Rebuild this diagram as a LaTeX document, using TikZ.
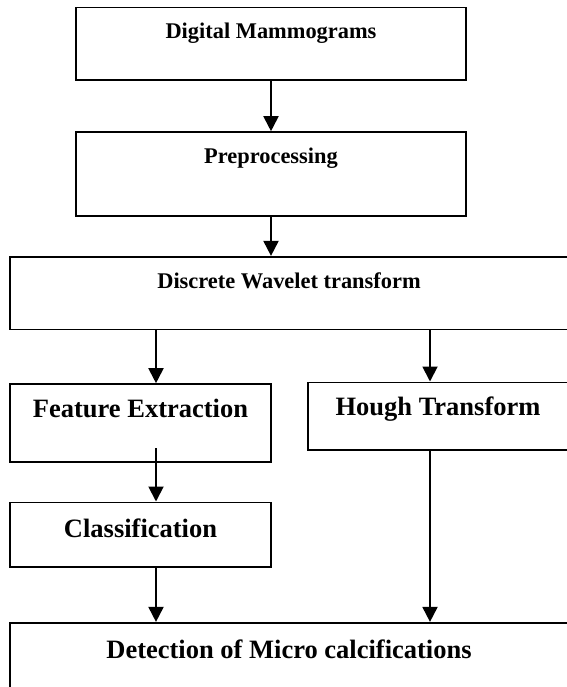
\documentclass[tikz,border=0pt]{standalone}
\usepackage{fontspec}
\setmainfont{Liberation Serif}
\usepackage{tikz}
\usetikzlibrary{arrows.meta}

\begin{document}
\begin{tikzpicture}[x=1pt,y=-1pt,
    box/.style={draw=black, line width=1.6pt, inner sep=0pt, anchor=base, font=\bfseries},
    small/.style={font=\bfseries\fontsize{22.4}{26}\selectfont},
    big/.style={font=\bfseries\fontsize{26.5}{30}\selectfont},
    arr/.style={line width=1.9pt, -{Triangle[length=15pt,width=15pt]}}]
            \useasboundingbox (0,0) rectangle (566,687);

            \node[box, small, minimum width=390pt, text height=31.5pt, text depth=41pt] (dm) at (271,39) {Digital Mammograms};
            \node[box, small, minimum width=390pt, text height=32pt, text depth=52pt] (pre) at (271,164) {Preprocessing};
            \node[box, small, minimum width=558pt, text height=31.6pt, text depth=41pt] (dwt) at (289,288.3) {Discrete Wavelet transform};

            \node[box, big, minimum width=261pt, text height=33.3pt, text depth=44.4pt] (fe) at (140.5,417.3) {Feature Extraction};
            \node[box, big, minimum width=260pt, text height=32.7pt, text depth=35pt] (ht) at (438,415) {Hough Transform};
            \node[box, big, minimum width=261pt, text height=35pt, text depth=29.4pt] (cls) at (140.5,537.3) {Classification};
            \node[box, big, minimum width=558pt, text height=35.6pt, text depth=52pt] (det) at (289,658.3) {Detection of Micro calcifications};

            \coordinate (lcol) at (156,0);
            \coordinate (rcol) at (430,0);
            \coordinate (fetail) at (156,448.3);

            \draw[arr] (dm.south) -- (pre.north);
            \draw[arr] (pre.south) -- (dwt.north -| pre.south);
            \draw[arr] (dwt.south -| lcol) -- (fe.north -| lcol);
            \draw[arr] (dwt.south -| rcol) -- (ht.north -| rcol);
            \draw[arr] (fetail) -- (cls.north -| fetail);
            \draw[arr] (cls.south -| lcol) -- (det.north -| lcol);
            \draw[arr] (ht.south -| rcol) -- (det.north -| rcol);
        \end{tikzpicture}
\end{document}
